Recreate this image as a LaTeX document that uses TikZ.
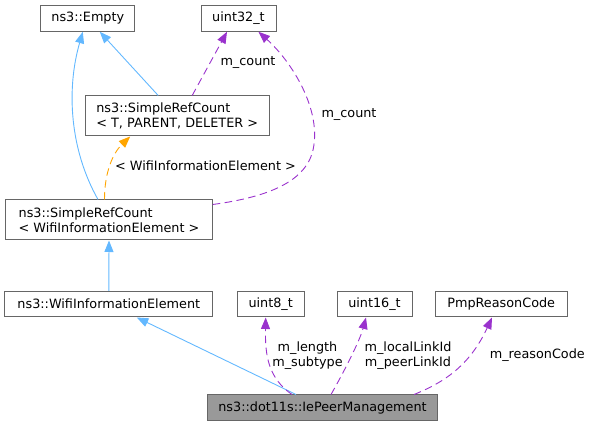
\documentclass[tikz,border=0pt]{standalone}
\usepackage{fontspec}
\setmainfont{DejaVu Sans}
\usetikzlibrary{arrows.meta}
\definecolor{inh}{HTML}{63B8FF}
\definecolor{usec}{HTML}{9A32CD}
\definecolor{tpl}{HTML}{FFA500}
\definecolor{bord}{HTML}{666666}
\definecolor{hl}{HTML}{999999}
\begin{document}
\begin{tikzpicture}[x=1pt,y=-1pt,
  font=\fontsize{12.8}{15}\selectfont,
  box/.style={draw=bord, line width=1pt, fill=white, inner sep=0pt, minimum height=25.6pt},
  twobox/.style={box, minimum height=40pt, align=left},
  lbl/.style={inner sep=0pt, align=center},
  tipstyle/.style={-{Triangle[length=11.5pt,width=9pt]}},
  inhedge/.style={draw=inh, line width=0.9pt, tipstyle},
  useedge/.style={draw=usec, line width=0.9pt, dash pattern=on 7.5pt off 4.5pt, tipstyle},
  tpledge/.style={draw=tpl, line width=0.9pt, dash pattern=on 7.5pt off 4.5pt, tipstyle}]
\useasboundingbox (0,0) rectangle (592,427);

\node[box, minimum width=94.3pt] (empty) at (87.8,18.5) {ns3::Empty};
\node[box, minimum width=75pt] (u32) at (238.5,18.5) {uint32\_t};
\node[twobox, minimum width=184.3pt] (srcT) at (177.2,116) {ns3::SimpleRefCount\\< T, PARENT, DELETER >};
\node[twobox, minimum width=206.6pt] (srcW) at (109,220) {ns3::SimpleRefCount\\< WifiInformationElement >};
\node[box, minimum width=207.7pt] (wie) at (108.8,304.2) {ns3::WifiInformationElement};
\node[box, minimum width=67.3pt] (u8) at (270.7,304.2) {uint8\_t};
\node[box, minimum width=75pt] (u16) at (374.5,304.2) {uint16\_t};
\node[box, minimum width=131.7pt] (pmp) at (501.2,304.2) {PmpReasonCode};
\node[box, minimum width=230.4pt, fill=hl] (iepm) at (322.5,407.8) {ns3::dot11s::IePeerManagement};

\draw[inhedge] ([xshift=-11pt]srcW.north) .. controls (70,150) and (66,90) .. ([xshift=-5pt]empty.south);
\draw[inhedge] ([xshift=-19pt]srcT.north) -- ([xshift=12pt]empty.south);
\draw[inhedge] (wie.north) -- (srcW.south);
\draw[inhedge] ([xshift=-26.5pt]iepm.north) -- ([xshift=28pt]wie.south);

\draw[tpledge] ([xshift=-4.5pt]srcW.north) .. controls (104.5,172) and (113,153) .. ([xshift=-47pt]srcT.south);
\node[lbl, anchor=west] (lt) at (115,165.7) {< WifiInformationElement >};

\draw[useedge] ([xshift=15pt]srcT.north) -- ([xshift=-11.5pt]u32.south);
\node[lbl] (lc1) at (248,62.3) {m\_count};

\draw[useedge] ([yshift=-5pt]srcW.north east) .. controls (260,198) and (305,185) .. (313,150)
  .. controls (322,110) and (292,62) .. ([xshift=20pt]u32.south);
\node[lbl] (lc2) at (349,114.3) {m\_count};

\draw[useedge] ([xshift=-30.5pt]iepm.north) .. controls (268,378) and (265,355) .. ([xshift=-5pt]u8.south);
\node[lbl] (ll) at (307.5,355.2) {m\_length\\m\_subtype};

\draw[useedge] ([xshift=8.5pt]iepm.north) .. controls (345,370) and (360,340) .. ([xshift=-8.5pt]u16.south);
\node[lbl] (lk) at (408,355.2) {m\_localLinkId\\m\_peerLinkId};

\draw[useedge] ([xshift=91.5pt]iepm.north) .. controls (445,382) and (470,365) .. ([xshift=-9.2pt]pmp.south);
\node[lbl] (lr) at (537.3,355) {m\_reasonCode};
\end{tikzpicture}
\end{document}
